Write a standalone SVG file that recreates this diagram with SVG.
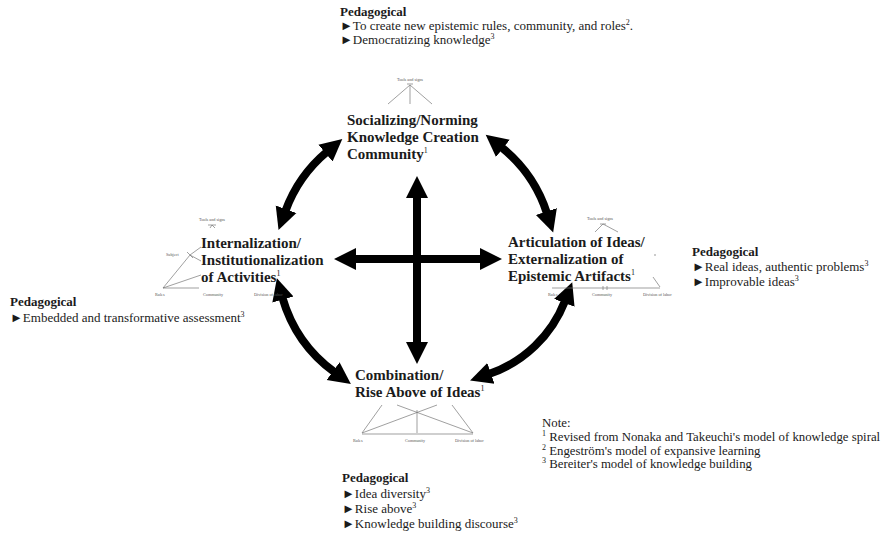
<svg xmlns="http://www.w3.org/2000/svg" width="887" height="536" viewBox="0 0 887 536">
<defs>
<style>
.t{font-family:"Liberation Serif","DejaVu Serif",serif;fill:#1b1b1b}
.node{font-size:15px;font-weight:bold}
.ped{font-size:13px}
.note{font-size:12.8px}
.b{font-weight:bold}
.tiny{font-family:"Liberation Serif",serif;font-size:4.2px;fill:#555}
.al{stroke:#777;stroke-width:0.7;fill:none}
.arw{stroke:#000;stroke-width:8;fill:none;marker-start:url(#ah);marker-end:url(#ah)}
</style>
<marker id="ah" markerUnits="userSpaceOnUse" markerWidth="30" markerHeight="30" refX="2" refY="11" orient="auto-start-reverse" viewBox="0 0 30 22"><path d="M0,0 L22,11 L0,22 z" fill="#000"/></marker>
</defs>
<rect width="887" height="536" fill="#fff"/>

<g id="connectors">
<path class="arw" d="M285.4,211.1 A140,140 0 0 1 327.0,151.8"/>
<path class="arw" d="M501.3,147.2 A140,140 0 0 1 547,213.4"/>
<path class="arw" d="M282.4,297.6 A140,140 0 0 0 334.7,372.3"/>
<path class="arw" d="M565,301 A125,125 0 0 1 489,374"/>
<path class="arw" d="M417,196 L417,344"/>
<path class="arw" d="M354,259 L482,259"/>
</g>

<g id="ped-top" class="t ped">
<text x="340" y="16" class="b">Pedagogical</text>
<text x="340" y="30">►To create new epistemic rules, community, and roles<tspan dy="-5" font-size="8">2</tspan><tspan dy="5">.</tspan></text>
<text x="340" y="44">►Democratizing knowledge<tspan dy="-5" font-size="8">3</tspan></text>
</g>

<g id="node-socializing">
<text class="tiny" x="410" y="81" text-anchor="middle">Tools and signs</text>
<path class="al" d="M407,84 L413,84 M410,85 L388,104 M410,85 L410,104 M410,85 L432,104"/>
<text class="t node" x="347" y="125">Socializing/Norming</text>
<text class="t node" x="347" y="142">Knowledge Creation</text>
<text class="t node" x="347" y="159">Community<tspan dy="-6" font-size="8" font-weight="normal">1</tspan></text>
</g>

<g id="node-internalization">
<text class="tiny" x="212" y="221" text-anchor="middle">Tools and signs</text>
<path class="al" d="M208,225 L216,225 M212,225 L210,228 M212,225 L215,228"/>
<text class="tiny" x="166" y="256">Subject</text>
<path class="al" d="M190,255 L201,247 M190,255 L201,261 M190,255 L163,288 M163,288 L201,275 M163,288 L199,288 M187,252 L193,258"/>
<text class="tiny" x="155" y="296">Rules</text>
<text class="tiny" x="203" y="296">Community</text>
<text class="tiny" x="254" y="296">Division of labor</text>
<text class="t node" x="201" y="248">Internalization/</text>
<text class="t node" x="201" y="265">Institutionalization</text>
<text class="t node" x="201" y="282">of Activities<tspan dy="-6" font-size="8" font-weight="normal">1</tspan></text>
</g>

<g id="node-articulation">
<text class="tiny" x="600" y="220" text-anchor="middle">Tools and signs</text>
<path class="al" d="M600,224 L606,224 M603,224 L595,232 M603,224 L618,232"/>
<circle cx="655" cy="255" r="0.8" fill="#888"/>
<path class="al" d="M552,288 L660,288 M653,277 L660,287 M603,286 L603,290 M607,286 L607,290"/>
<text class="tiny" x="548" y="296">Rules</text>
<text class="tiny" x="592" y="296">Community</text>
<text class="tiny" x="643" y="296">Division of labor</text>
<text class="t node" x="508" y="247">Articulation of Ideas/</text>
<text class="t node" x="508" y="264">Externalization of</text>
<text class="t node" x="508" y="281">Epistemic Artifacts<tspan dy="-6" font-size="8" font-weight="normal">1</tspan></text>
</g>

<g id="ped-right" class="t ped">
<text x="692" y="256" class="b">Pedagogical</text>
<text x="692" y="271">►Real ideas, authentic problems<tspan dy="-5" font-size="8">3</tspan></text>
<text x="692" y="286">►Improvable ideas<tspan dy="-5" font-size="8">3</tspan></text>
</g>

<g id="ped-left" class="t ped">
<text x="10" y="306" class="b">Pedagogical</text>
<text x="10" y="322">►Embedded and transformative assessment<tspan dy="-5" font-size="8">3</tspan></text>
</g>

<g id="node-combination">
<text class="t node" x="355" y="380">Combination/</text>
<text class="t node" x="355" y="397">Rise Above of Ideas<tspan dy="-6" font-size="8" font-weight="normal">1</tspan></text>
<path class="al" d="M382,405 L362,433 M397,405 L473,433 M417,410 L417,433 M437,405 L362,433 M452,405 L473,433 M362,434 L473,434"/>
<text class="tiny" x="353" y="442">Rules</text>
<text class="tiny" x="405" y="442">Community</text>
<text class="tiny" x="455" y="442">Division of labor</text>
</g>

<g id="note" class="t note">
<text x="542" y="427">Note:</text>
<text x="542" y="441"><tspan font-size="8" dy="-5">1</tspan><tspan dy="5"> Revised from Nonaka and Takeuchi's model of knowledge spiral</tspan></text>
<text x="542" y="455"><tspan font-size="8" dy="-5">2</tspan><tspan dy="5"> Engeström's model of expansive learning</tspan></text>
<text x="542" y="468"><tspan font-size="8" dy="-5">3</tspan><tspan dy="5"> Bereiter's model of knowledge building</tspan></text>
</g>

<g id="ped-bottom" class="t ped">
<text x="342" y="482" class="b">Pedagogical</text>
<text x="342" y="498">►Idea diversity<tspan dy="-5" font-size="8">3</tspan></text>
<text x="342" y="513">►Rise above<tspan dy="-5" font-size="8">3</tspan></text>
<text x="342" y="528">►Knowledge building discourse<tspan dy="-5" font-size="8">3</tspan></text>
</g>
</svg>
